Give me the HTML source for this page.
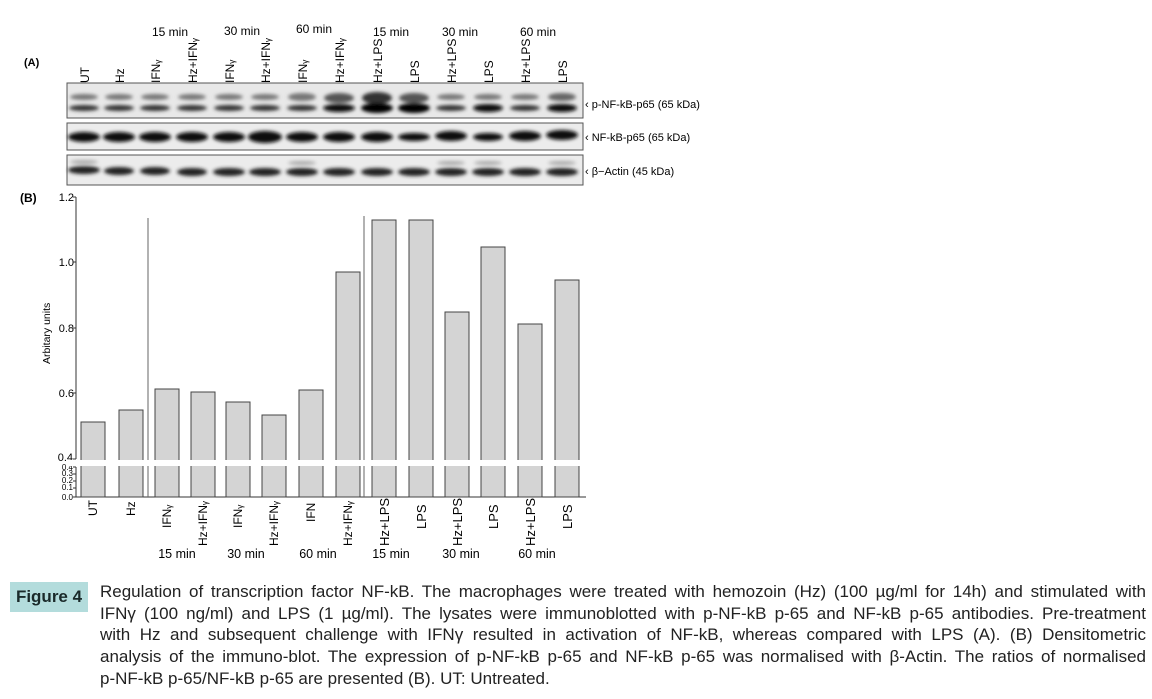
<!DOCTYPE html>
<html><head><meta charset="utf-8"><style>
body{margin:0;background:#fff;width:1152px;height:699px;overflow:hidden;position:relative;font-family:"Liberation Sans",sans-serif}
svg{position:absolute;left:0;top:0}
.cap{position:absolute;left:100px;top:581px;width:1046px;font-size:17px;line-height:21.7px;color:#222;font-family:"Liberation Sans","DejaVu Sans",sans-serif}
.cap div{text-align:justify;text-align-last:justify;white-space:nowrap}
.cap div.l{text-align-last:left}
.fig{position:absolute;left:10px;top:582px;width:78px;height:30px;background:#b3dcdc;font-weight:bold;font-size:17px;line-height:30px;text-align:center;color:#1a2a2a}
</style></head><body>
<svg width="1152" height="699" font-family="Liberation Sans, sans-serif">
<defs><filter id="b" x="-20%" y="-100%" width="140%" height="300%"><feGaussianBlur stdDeviation="1.8"/></filter></defs>
<text x="24" y="66" font-size="11" font-weight="bold">(A)</text>
<g font-size="12" text-anchor="middle">
<text x="170" y="36">15 min</text><text x="242" y="35">30 min</text><text x="314" y="33">60 min</text>
<text x="391" y="36">15 min</text><text x="460" y="36">30 min</text><text x="538" y="36">60 min</text>
</g>
<g font-size="12">
<text transform="translate(89,83) rotate(-90)">UT</text>
<text transform="translate(124,83) rotate(-90)">Hz</text>
<text transform="translate(160,83) rotate(-90)">IFNᵧ</text>
<text transform="translate(197,83) rotate(-90)">Hz+IFNᵧ</text>
<text transform="translate(234,83) rotate(-90)">IFNᵧ</text>
<text transform="translate(270,83) rotate(-90)">Hz+IFNᵧ</text>
<text transform="translate(307,83) rotate(-90)">IFNᵧ</text>
<text transform="translate(344,83) rotate(-90)">Hz+IFNᵧ</text>
<text transform="translate(382,83) rotate(-90)">Hz+LPS</text>
<text transform="translate(419,83) rotate(-90)">LPS</text>
<text transform="translate(456,83) rotate(-90)">Hz+LPS</text>
<text transform="translate(493,83) rotate(-90)">LPS</text>
<text transform="translate(530,83) rotate(-90)">Hz+LPS</text>
<text transform="translate(567,83) rotate(-90)">LPS</text>
</g>
<rect x="67" y="83" width="516" height="35" fill="#e8e8e8" stroke="#555"/>
<rect x="67" y="123" width="516" height="27" fill="#ececec" stroke="#555"/>
<rect x="67" y="155" width="516" height="30" fill="#ececec" stroke="#555"/>
<g filter="url(#b)">
<g fill="#777">
<ellipse cx="84" cy="97" rx="14" ry="3"/><ellipse cx="119" cy="97" rx="14" ry="3"/><ellipse cx="155" cy="97" rx="14" ry="3"/><ellipse cx="192" cy="97" rx="14" ry="3"/><ellipse cx="229" cy="97" rx="14" ry="3"/><ellipse cx="265" cy="97" rx="14" ry="3"/><ellipse cx="302" cy="97" rx="14" ry="4"/><ellipse cx="339" cy="98" rx="15" ry="5" fill="#555"/><ellipse cx="377" cy="98" rx="15" ry="6" fill="#333"/><ellipse cx="414" cy="98" rx="15" ry="5" fill="#555"/><ellipse cx="451" cy="97" rx="14" ry="3"/><ellipse cx="488" cy="97" rx="14" ry="3"/><ellipse cx="525" cy="97" rx="14" ry="3"/><ellipse cx="562" cy="97" rx="14" ry="4" fill="#666"/>
</g>
<g fill="#333">
<ellipse cx="84" cy="108" rx="15" ry="3"/><ellipse cx="119" cy="108" rx="15" ry="3"/><ellipse cx="155" cy="108" rx="15" ry="3"/><ellipse cx="192" cy="108" rx="15" ry="3"/><ellipse cx="229" cy="108" rx="15" ry="3"/><ellipse cx="265" cy="108" rx="15" ry="3"/><ellipse cx="302" cy="108" rx="15" ry="3"/><ellipse cx="339" cy="108" rx="16" ry="4" fill="#111"/><ellipse cx="377" cy="108" rx="16" ry="5" fill="#000"/><ellipse cx="414" cy="108" rx="16" ry="5" fill="#000"/><ellipse cx="451" cy="108" rx="15" ry="3"/><ellipse cx="488" cy="108" rx="15" ry="4" fill="#111"/><ellipse cx="525" cy="108" rx="15" ry="3"/><ellipse cx="562" cy="108" rx="15" ry="4" fill="#111"/>
</g>
<g fill="#111">
<ellipse cx="84" cy="137" rx="16" ry="5"/><ellipse cx="119" cy="137" rx="16" ry="5"/><ellipse cx="155" cy="137" rx="16" ry="5"/><ellipse cx="192" cy="137" rx="16" ry="5"/><ellipse cx="229" cy="137" rx="16" ry="5"/><ellipse cx="265" cy="137" rx="17" ry="6"/><ellipse cx="302" cy="137" rx="16" ry="5"/><ellipse cx="339" cy="137" rx="16" ry="5"/><ellipse cx="377" cy="137" rx="16" ry="5"/><ellipse cx="414" cy="137" rx="16" ry="4"/><ellipse cx="451" cy="136" rx="16" ry="5"/><ellipse cx="488" cy="137" rx="15" ry="4"/><ellipse cx="525" cy="136" rx="16" ry="5"/><ellipse cx="562" cy="135" rx="16" ry="5"/>
</g>
<g fill="#aaa">
<ellipse cx="84" cy="162" rx="14" ry="2"/><ellipse cx="302" cy="163" rx="14" ry="2"/><ellipse cx="488" cy="163" rx="14" ry="2"/><ellipse cx="562" cy="163" rx="14" ry="2"/><ellipse cx="451" cy="163" rx="14" ry="2"/>
</g>
<g fill="#222">
<ellipse cx="84" cy="170" rx="16" ry="4"/><ellipse cx="119" cy="171" rx="15" ry="4"/><ellipse cx="155" cy="171" rx="15" ry="4"/><ellipse cx="192" cy="172" rx="15" ry="4"/><ellipse cx="229" cy="172" rx="16" ry="4"/><ellipse cx="265" cy="172" rx="16" ry="4"/><ellipse cx="302" cy="172" rx="16" ry="4"/><ellipse cx="339" cy="172" rx="16" ry="4"/><ellipse cx="377" cy="172" rx="16" ry="4"/><ellipse cx="414" cy="172" rx="16" ry="4"/><ellipse cx="451" cy="172" rx="16" ry="4"/><ellipse cx="488" cy="172" rx="16" ry="4"/><ellipse cx="525" cy="172" rx="16" ry="4"/><ellipse cx="562" cy="172" rx="16" ry="4"/>
</g>
</g>
<g font-size="11">
<text x="585" y="108">‹ p-NF-kB-p65 (65 kDa)</text>
<text x="585" y="141">‹ NF-kB-p65 (65 kDa)</text>
<text x="585" y="175">‹ β−Actin (45 kDa)</text>
</g>
<text x="20" y="202" font-size="12" font-weight="bold">(B)</text>
<g font-size="11" text-anchor="end">
<text x="74" y="201">1.2</text><text x="74" y="266">1.0</text><text x="74" y="332">0.8</text><text x="74" y="397">0.6</text><text x="73" y="461">0.4</text>
<text x="73" y="470" font-size="8">0.4</text><text x="73" y="476" font-size="8">0.3</text><text x="73" y="483" font-size="8">0.2</text><text x="73" y="490" font-size="8">0.1</text><text x="73" y="500" font-size="8">0.0</text>
</g>
<text transform="translate(50,364) rotate(-90)" font-size="10.5">Arbitary units</text>
<g stroke="#333" fill="none">
<path d="M76 197V459M76 467V497H586"/>
<path d="M73 197H76M73 262H76M73 328H76M73 393H76M73 459H76M73 467H76M73 474H76M73 481H76M73 488H76M73 497H76"/>
<path d="M148 218V497M364 216V497" stroke="#666"/>
</g>
<g fill="#d4d4d4" stroke="#444" stroke-width="1">
<rect x="81" y="422" width="24" height="75"/><rect x="119" y="410" width="24" height="87"/>
<rect x="155" y="389" width="24" height="108"/><rect x="191" y="392" width="24" height="105"/>
<rect x="226" y="402" width="24" height="95"/><rect x="262" y="415" width="24" height="82"/>
<rect x="299" y="390" width="24" height="107"/><rect x="336" y="272" width="24" height="225"/>
<rect x="372" y="220" width="24" height="277"/><rect x="409" y="220" width="24" height="277"/>
<rect x="445" y="312" width="24" height="185"/><rect x="481" y="247" width="24" height="250"/>
<rect x="518" y="324" width="24" height="173"/><rect x="555" y="280" width="24" height="217"/>
</g>
<rect x="70" y="460" width="520" height="6" fill="#fff"/>
<g font-size="12">
<text transform="translate(97,516) rotate(-90)">UT</text>
<text transform="translate(135,516) rotate(-90)">Hz</text>
<text transform="translate(171,528) rotate(-90)">IFNᵧ</text>
<text transform="translate(207,546) rotate(-90)">Hz+IFNᵧ</text>
<text transform="translate(242,528) rotate(-90)">IFNᵧ</text>
<text transform="translate(278,546) rotate(-90)">Hz+IFNᵧ</text>
<text transform="translate(315,522) rotate(-90)">IFN</text>
<text transform="translate(352,546) rotate(-90)">Hz+IFNᵧ</text>
<text transform="translate(389,546) rotate(-90)" font-size="13">Hz+LPS</text>
<text transform="translate(426,529) rotate(-90)" font-size="13">LPS</text>
<text transform="translate(462,546) rotate(-90)" font-size="13">Hz+LPS</text>
<text transform="translate(498,529) rotate(-90)" font-size="13">LPS</text>
<text transform="translate(535,546) rotate(-90)" font-size="13">Hz+LPS</text>
<text transform="translate(572,529) rotate(-90)" font-size="13">LPS</text>
</g>
<g font-size="12.5" text-anchor="middle">
<text x="177" y="558">15 min</text><text x="246" y="558">30 min</text><text x="318" y="558">60 min</text>
<text x="391" y="558">15 min</text><text x="461" y="558">30 min</text><text x="537" y="558">60 min</text>
</g>
</svg>
<div class="fig">Figure 4</div>
<div class="cap">
<div>Regulation of transcription factor NF-kB. The macrophages were treated with hemozoin (Hz) (100 µg/ml for 14h) and stimulated with</div>
<div>IFNγ (100 ng/ml) and LPS (1 µg/ml). The lysates were immunoblotted with p-NF-kB p-65 and NF-kB p-65 antibodies. Pre-treatment</div>
<div>with Hz and subsequent challenge with IFNγ resulted in activation of NF-kB, whereas compared with LPS (A). (B) Densitometric</div>
<div>analysis of the immuno-blot. The expression of p-NF-kB p-65 and NF-kB p-65 was normalised with β-Actin. The ratios of normalised</div>
<div class="l">p-NF-kB p-65/NF-kB p-65 are presented (B). UT: Untreated.</div>
</div>
</body></html>
